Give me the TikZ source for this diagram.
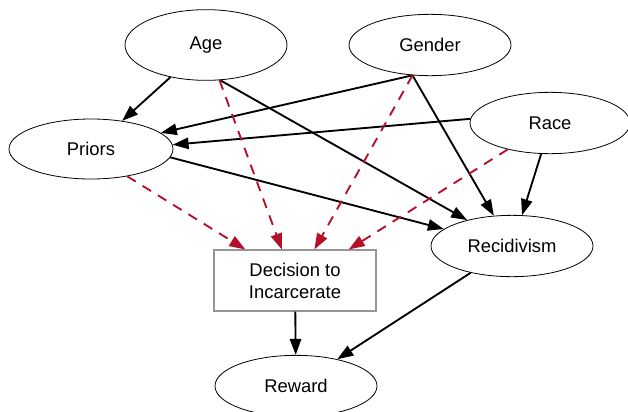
\documentclass[tikz,border=0pt]{standalone}
\usepackage{fontspec}
\setmainfont{Liberation Sans}
\usetikzlibrary{shapes.geometric,arrows.meta}
\definecolor{dashred}{RGB}{180,16,40}
\definecolor{boxgray}{RGB}{150,150,150}
\begin{document}
\begin{tikzpicture}[x=0.75pt,y=-0.75pt,
  every node/.style={font=\fontsize{13.8}{16.5}\selectfont, inner sep=0pt},
  var/.style={ellipse, draw, line width=0.6pt, minimum width=121.5pt, minimum height=46pt},
  decbox/.style={rectangle, draw=boxgray, line width=0.8pt, minimum width=121.5pt, minimum height=45.75pt, align=center},
  causal/.style={line width=1.4pt, -{Triangle[length=12pt,width=8.5pt]}},
  dec/.style={line width=1.4pt, dashred, dash pattern=on 7.5pt off 6pt, -{Triangle[length=12pt,width=8.5pt]}}
]
\clip (0,0) rectangle (628,411);
\node[var, minimum height=53pt] (age) at (206,45) {Age};
\node[var] (gender) at (430,45) {Gender};
\node[var, minimum width=120pt] (race) at (550,123) {Race};
\node[var, minimum width=123pt, minimum height=45pt] (priors) at (91,149) {Priors};
\node[var] (recid) at (512,246) {Recidivism};
\node[var] (reward) at (296,386) {Reward};
\node[decbox] (decision) at (295,280.5) {Decision to\\Incarcerate};

\draw[causal] (age) -- (priors);
\draw[causal] (age.-68) -- (recid.150);
\draw[causal] (gender.-120) -- (priors.13.5);
\draw[causal] (gender.-120) -- (recid.121.5);
\draw[causal] (race.177) -- (priors.3);
\draw[causal] (race.-106.7) -- (recid.72);
\draw[causal] (priors.-6.4) -- (recid.166.6);
\draw[causal] (recid) -- (reward);
\draw[causal] (decision) -- (reward);

\draw[dec] (priors.-37) -- (decision.148.6);
\draw[dec] (age.-69.6) -- (decision.113.1);
\draw[dec] (gender.-120) -- (decision.58.1);
\draw[dec] (race.-148) -- (decision.30.4);
\end{tikzpicture}
\end{document}
